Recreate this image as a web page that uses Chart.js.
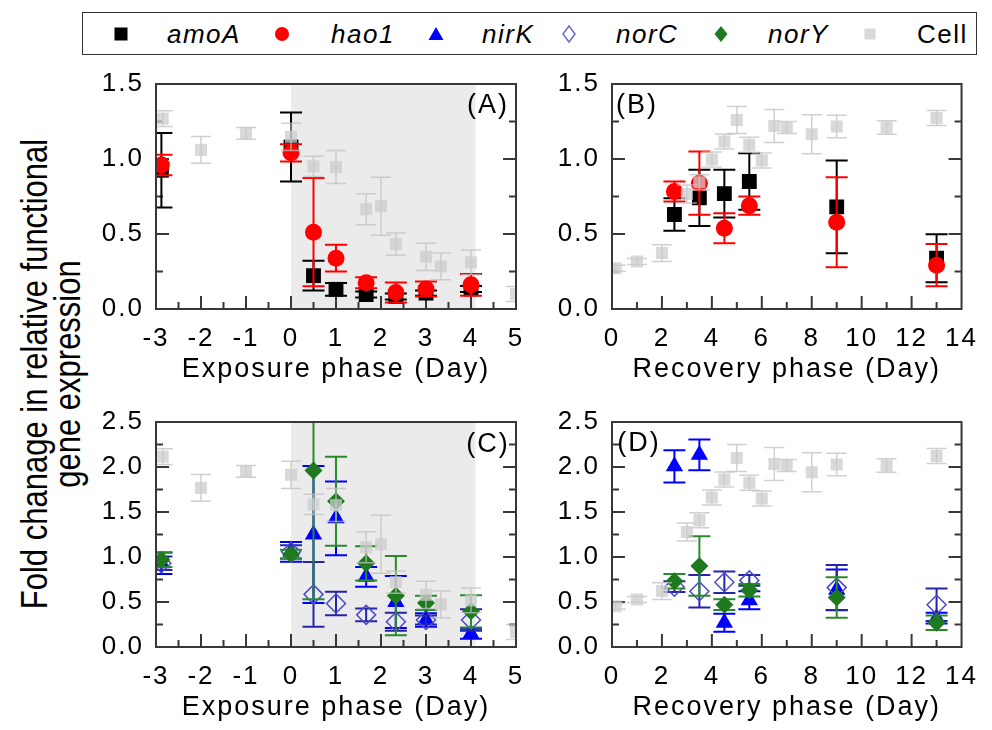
<!DOCTYPE html>
<html>
<head>
<meta charset="utf-8">
<script src="https://cdn.jsdelivr.net/npm/chart.js@4.4.1/dist/chart.umd.min.js"></script>
<style>
html,body{margin:0;padding:0;width:992px;height:730px;overflow:hidden;background:#fff;}
body{position:relative;font-family:"Liberation Sans",Arial,sans-serif;color:#000;}
canvas{position:absolute;}
.legend{position:absolute;left:82px;top:12px;width:893px;height:41px;border:1.5px solid #333;}
.sym{position:absolute;top:24px;width:20px;height:20px;}
.lab{position:absolute;top:19px;font-size:26px;line-height:30px;letter-spacing:1.5px;white-space:nowrap;}
.lab i{font-style:italic;}
.tag{position:absolute;width:60px;text-align:center;font-size:27px;line-height:30px;letter-spacing:2px;}
.ytitle{position:absolute;left:51px;top:374px;width:620px;transform:translate(-50%,-50%) rotate(-90deg) scaleY(1.2);
  text-align:center;font-size:31px;line-height:27px;white-space:nowrap;}
</style>
</head>
<body>
<div class="legend"></div>
<svg class="sym" style="left:111px" viewBox="0 0 20 20"><rect x="3.5" y="3.5" width="13" height="13" fill="#000"/></svg>
<span class="lab" style="left:167px"><i>amoA</i></span>
<svg class="sym" style="left:272px" viewBox="0 0 20 20"><circle cx="10" cy="10" r="7" fill="#ff0000"/></svg>
<span class="lab" style="left:331px"><i>hao1</i></span>
<svg class="sym" style="left:426px" viewBox="0 0 20 20"><polygon points="10,3 17.5,16 2.5,16" fill="#0000ff"/></svg>
<span class="lab" style="left:482px"><i>nirK</i></span>
<svg class="sym" style="left:559px" viewBox="0 0 20 20"><polygon points="10,2 16,10 10,18 4,10" fill="none" stroke="#6a6ad0" stroke-width="1.5"/></svg>
<span class="lab" style="left:616px"><i>norC</i></span>
<svg class="sym" style="left:711px" viewBox="0 0 20 20"><polygon points="10,2 16.5,10 10,18 3.5,10" fill="#1f7a1f"/></svg>
<span class="lab" style="left:768px"><i>norY</i></span>
<svg class="sym" style="left:860px" viewBox="0 0 20 20"><rect x="4.5" y="4.5" width="11" height="11" fill="#d9d9d9"/></svg>
<span class="lab" style="left:917px">Cell</span>

<div class="ytitle">Fold chanage in relative functional<br>gene expression</div>

<canvas id="panelA" width="484" height="340" style="left:56px;top:56px"></canvas>
<canvas id="panelB" width="480" height="340" style="left:512px;top:56px"></canvas>
<canvas id="panelC" width="484" height="340" style="left:56px;top:394px"></canvas>
<canvas id="panelD" width="480" height="340" style="left:512px;top:394px"></canvas>

<div class="tag" style="left:458px;top:89px">(A)</div>
<div class="tag" style="left:607px;top:89px">(B)</div>
<div class="tag" style="left:458px;top:428px">(C)</div>
<div class="tag" style="left:609px;top:427px">(D)</div>

<script>
// sampling days
const exposureDays = [-2.88, 0, 0.5, 1, 1.67, 2.33, 3, 4];
const recoveryDays = [2.5, 3.5, 4.5, 5.5, 9, 13];

// ammonia oxidation genes
const amoAExp = [0.925, 1.08, 0.222, 0.131, 0.096, 0.084, 0.106, 0.134];
const amoAExpErr = [0.248, 0.23, 0.099, 0.042, 0.02, 0.02, 0.017, 0.02];
const hao1Exp = [0.96, 1.041, 0.512, 0.339, 0.175, 0.11, 0.134, 0.161];
const hao1ExpErr = [0.069, 0.058, 0.361, 0.089, 0.036, 0.067, 0.05, 0.072];
const amoARec = [0.63, 0.741, 0.769, 0.85, 0.681, 0.339];
const amoARecErr = [0.109, 0.187, 0.159, 0.189, 0.309, 0.16];
const hao1Rec = [0.783, 0.839, 0.539, 0.689, 0.579, 0.292];
const hao1RecErr = [0.067, 0.211, 0.1, 0.061, 0.3, 0.141];

// denitrification genes
const nirKExp = [0.93, 1.057, 1.25, 1.43, 0.78, 0.5, 0.3, 0.148];
const nirKExpErr = [0.12, 0.11, 0.76, 0.41, 0.11, 0.29, 0.074, 0.056];
const norCExp = [0.93, 1.057, 0.585, 0.483, 0.357, 0.28, 0.3, 0.3];
const norCExpErr = [0.075, 0.074, 0.36, 0.13, 0.07, 0.1, 0.05, 0.12];
const norYExp = [0.97, 1.03, 1.96, 1.62, 0.93, 0.57, 0.49, 0.396];
const norYExpErr = [0.08, 0.05, 1.43, 0.495, 0.19, 0.44, 0.08, 0.18];
const nirKRec = [2.007, 2.135, 0.27, 0.52, 0.635, 0.32];
const nirKRecErr = [0.18, 0.17, 0.1, 0.1, 0.226, 0.06];
const norCRec = [0.67, 0.62, 0.72, 0.74, 0.66, 0.47];
const norCRecErr = [0.06, 0.18, 0.12, 0.06, 0.25, 0.18];
const norYRec = [0.73, 0.9, 0.47, 0.63, 0.55, 0.27];
const norYRecErr = [0.08, 0.33, 0.06, 0.07, 0.225, 0.08];

// cell density (own 0-1.5 scale in every panel)
const cellExposureDays = [-2.85, -2, -1, 0, 0.5, 1, 1.67, 2, 2.33, 3, 3.33, 4, 5];
const cellExposure = [1.269, 1.061, 1.171, 1.148, 0.951, 0.946, 0.665, 0.685, 0.432, 0.348, 0.284, 0.311, 0.10];
const cellExposureErr = [0.053, 0.089, 0.039, 0.091, 0.068, 0.11, 0.103, 0.194, 0.074, 0.091, 0.089, 0.083, 0.05];
const cellRecoveryDays = [0.15, 1, 2, 3, 3.5, 4, 4.5, 5, 5.5, 6, 6.5, 7, 8, 9, 11, 13];
const cellRecovery = [0.272, 0.317, 0.373, 0.767, 0.845, 0.997, 1.117, 1.26, 1.095, 0.99, 1.22, 1.21, 1.165, 1.217, 1.21, 1.273];
const cellRecoveryErr = [0.02, 0.02, 0.056, 0.06, 0.05, 0.05, 0.05, 0.09, 0.05, 0.05, 0.11, 0.04, 0.13, 0.075, 0.045, 0.05];

// axes
const exposureTicks = [-3, -2, -1, 0, 1, 2, 3, 4, 5];
const recoveryTicks = [0, 2, 4, 6, 8, 10, 12, 14];
const foldTicksTop = [0, 0.5, 1, 1.5];
const foldTicksBottom = [0, 0.5, 1, 1.5, 2, 2.5];
const exposureWindow = [0, 4.1];

const FONT = '"Liberation Sans", Arial, sans-serif';
const INK = '#383838';

const pts = (xs, ys) => xs.map((x, i) => ({x, y: ys[i]}));

// vertical error bars, drawn just before each dataset's markers
const errorBars = {
  id: 'errorBars',
  beforeDatasetDraw(chart, args) {
    const ds = chart.data.datasets[args.index];
    if (!ds.err) return;
    const {ctx, chartArea: a} = chart, y = chart.scales[args.meta.yAxisID], cap = ds.cap || 11;
    ctx.save();
    ctx.beginPath(); ctx.rect(a.left, a.top, a.width, a.height); ctx.clip();
    ctx.strokeStyle = ds.errColor; ctx.lineWidth = ds.errWidth || 2;
    args.meta.data.forEach((p, i) => {
      const v = ds.data[i].y, e = ds.err[i];
      const t = y.getPixelForValue(v + e), b = y.getPixelForValue(v - e);
      ctx.beginPath();
      ctx.moveTo(p.x, t); ctx.lineTo(p.x, b);
      ctx.moveTo(p.x - cap, t); ctx.lineTo(p.x + cap, t);
      ctx.moveTo(p.x - cap, b); ctx.lineTo(p.x + cap, b);
      ctx.stroke();
    });
    ctx.restore();
  }
};

// shaded exposure window, inward ticks and box frame
const frame = {
  id: 'frame',
  beforeDatasetsDraw(chart, args, o) {
    const {ctx, chartArea: a, scales: {x, y}} = chart;
    if (o.shade) {
      const l = x.getPixelForValue(o.shade[0]), r = x.getPixelForValue(o.shade[1]);
      ctx.fillStyle = '#ebebeb';
      ctx.fillRect(l, a.top, r - l, a.height);
    }
    ctx.save();
    ctx.strokeStyle = INK; ctx.lineWidth = 2; ctx.beginPath();
    const nx = Math.round((x.max - x.min) / o.xMinor);
    for (let i = 1; i < nx; i++) {
      const v = x.min + i * o.xMinor, p = x.getPixelForValue(v);
      const len = Math.abs(v / o.xMajor - Math.round(v / o.xMajor)) < 1e-6 ? 13 : 7;
      ctx.moveTo(p, a.bottom); ctx.lineTo(p, a.bottom - len);
    }
    const ny = Math.round((y.max - y.min) / o.yMinor);
    for (let i = 1; i < ny; i++) {
      const v = y.min + i * o.yMinor, p = y.getPixelForValue(v);
      const len = Math.abs(v / o.yMajor - Math.round(v / o.yMajor)) < 1e-6 ? 13 : 7;
      ctx.moveTo(a.left, p); ctx.lineTo(a.left + len, p);
      ctx.moveTo(a.right, p); ctx.lineTo(a.right - len, p);
    }
    ctx.stroke();
    ctx.restore();
  },
  afterDatasetsDraw(chart) {
    const {ctx, chartArea: a} = chart;
    ctx.save();
    ctx.strokeStyle = INK; ctx.lineWidth = 2;
    ctx.strokeRect(a.left, a.top, a.width, a.height);
    ctx.restore();
  }
};

const spacing = {
  id: 'spacing',
  beforeLayout(c) { c.ctx.letterSpacing = '2px'; },
  beforeDraw(c) { c.ctx.letterSpacing = '2px'; }
};

function series(label, xs, ys, err, style) {
  return Object.assign({
    label, data: pts(xs, ys), err, showLine: false, clip: 0,
    pointBorderWidth: 0
  }, style);
}

const styles = {
  cell: {order: 0, yAxisID: 'yCell', pointStyle: 'rect', pointRadius: 8.5,
    pointBackgroundColor: 'rgba(204,204,204,0.75)', pointBorderColor: 'rgba(204,204,204,0.75)',
    errColor: 'rgba(192,192,192,0.75)', errWidth: 1.5, cap: 10},
  hao1: {order: 1, pointStyle: 'circle', pointRadius: 8.5, pointBackgroundColor: '#ff0000',
    pointBorderColor: '#ff0000', errColor: '#ff0000'},
  amoA: {order: 2, pointStyle: 'rect', pointRadius: 10.5, pointBackgroundColor: '#000',
    pointBorderColor: '#000', errColor: '#000'},
  norY: {order: 1, pointStyle: 'rectRot', pointRadius: 9, pointBackgroundColor: '#1f7a1f',
    pointBorderColor: '#1f7a1f', errColor: '#2a8a2a'},
  norC: {order: 2, pointStyle: 'rectRot', pointRadius: 9.5, pointBackgroundColor: 'rgba(0,0,0,0)',
    pointBorderColor: '#4a4acc', pointBorderWidth: 1.5, errColor: '#2525a8'},
  nirK: {order: 3, pointStyle: 'triangle', pointRadius: 10, pointBackgroundColor: '#0000ff',
    pointBorderColor: '#0000ff', errColor: '#0000ff'}
};

function panel(id, p) {
  const c = document.getElementById(id);
  return new Chart(c, {
    type: 'scatter',
    data: {datasets: p.datasets},
    plugins: [spacing, frame, errorBars],
    options: {
      responsive: false, animation: false, events: [], devicePixelRatio: 1,
      layout: {padding: {top: 28, right: p.padRight, left: 0, bottom: 0}},
      plugins: {legend: {display: false}, tooltip: {enabled: false},
        frame: {shade: p.shade, xMinor: p.xMinor, xMajor: p.xMajor, yMinor: 0.25, yMajor: 0.5}},
      scales: {
        x: {
          type: 'linear', min: p.xTicks[0], max: p.xTicks[p.xTicks.length - 1],
          afterBuildTicks: s => { s.ticks = p.xTicks.map(v => ({value: v})); },
          afterFit: s => { s.height = 87; },
          grid: {display: false, drawTicks: false}, border: {display: false},
          ticks: {padding: 14, color: '#000', autoSkip: false, maxRotation: 0,
            font: {family: FONT, size: 26}},
          title: {display: true, text: p.xTitle, color: '#000', padding: {top: 0, bottom: 10},
            font: {family: FONT, size: 27}}
        },
        y: {
          type: 'linear', min: 0, max: p.yTicks[p.yTicks.length - 1],
          afterBuildTicks: s => { s.ticks = p.yTicks.map(v => ({value: v})); },
          afterFit: s => { s.width = 100; },
          grid: {display: false, drawTicks: false}, border: {display: false},
          ticks: {padding: 12, color: '#000', callback: v => v.toFixed(1),
            font: {family: FONT, size: 26}}
        },
        yCell: {type: 'linear', display: false, min: 0, max: 1.5}
      }
    }
  });
}

panel('panelA', {
  xTicks: exposureTicks, yTicks: foldTicksTop, xMinor: 0.5, xMajor: 1, padRight: 24,
  shade: exposureWindow, xTitle: 'Exposure phase (Day)',
  datasets: [
    series('Cell', cellExposureDays, cellExposure, cellExposureErr, styles.cell),
    series('hao1', exposureDays, hao1Exp, hao1ExpErr, styles.hao1),
    series('amoA', exposureDays, amoAExp, amoAExpErr, styles.amoA)
  ]
});

panel('panelB', {
  xTicks: recoveryTicks, yTicks: foldTicksTop, xMinor: 1, xMajor: 2, padRight: 20,
  shade: null, xTitle: 'Recovery phase (Day)',
  datasets: [
    series('Cell', cellRecoveryDays, cellRecovery, cellRecoveryErr, styles.cell),
    series('hao1', recoveryDays, hao1Rec, hao1RecErr, styles.hao1),
    series('amoA', recoveryDays, amoARec, amoARecErr, styles.amoA)
  ]
});

panel('panelC', {
  xTicks: exposureTicks, yTicks: foldTicksBottom, xMinor: 0.5, xMajor: 1, padRight: 24,
  shade: exposureWindow, xTitle: 'Exposure phase (Day)',
  datasets: [
    series('Cell', cellExposureDays, cellExposure, cellExposureErr, styles.cell),
    series('norY', exposureDays, norYExp, norYExpErr, styles.norY),
    series('norC', exposureDays, norCExp, norCExpErr, styles.norC),
    series('nirK', exposureDays, nirKExp, nirKExpErr, styles.nirK)
  ]
});

panel('panelD', {
  xTicks: recoveryTicks, yTicks: foldTicksBottom, xMinor: 1, xMajor: 2, padRight: 20,
  shade: null, xTitle: 'Recovery phase (Day)',
  datasets: [
    series('Cell', cellRecoveryDays, cellRecovery, cellRecoveryErr, styles.cell),
    series('norY', recoveryDays, norYRec, norYRecErr, styles.norY),
    series('norC', recoveryDays, norCRec, norCRecErr, styles.norC),
    series('nirK', recoveryDays, nirKRec, nirKRecErr, styles.nirK)
  ]
});
</script>
</body>
</html>
